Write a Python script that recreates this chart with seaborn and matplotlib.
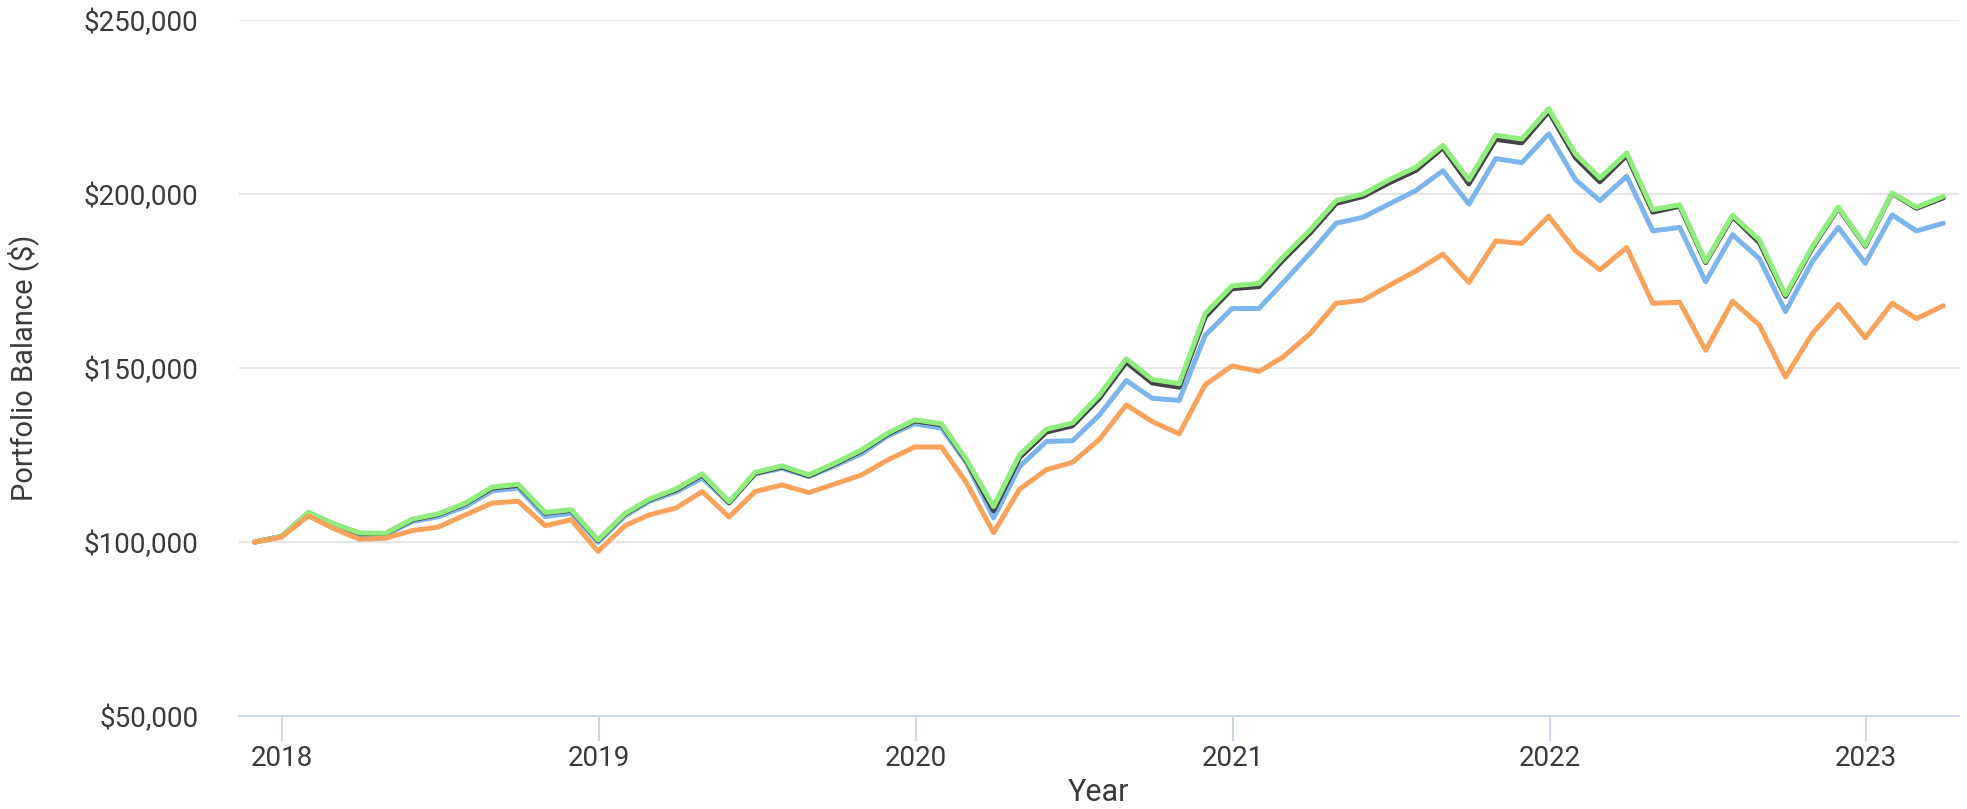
import pandas as pd
import numpy as np
import matplotlib
matplotlib.use("Agg")
import matplotlib.pyplot as plt
import matplotlib.dates as mdates
import matplotlib.ticker as mticker
import seaborn as sns

# --- 1. data (month-end balances) ---
dates = pd.date_range("2017-11-30", periods=65, freq="ME")

portfolio_1 = [  # blue
    100000, 101500, 108300, 105000, 102100, 102100, 105900, 107300, 110200, 114700,
    115500, 107300, 108300, 99900, 107500, 111700, 114400, 118400, 111200, 119600,
    121200, 118800, 121900, 125400, 130500, 134000, 132700, 122700, 106900, 121700,
    128900, 129100, 136500, 146400, 141300, 140700, 159400, 167100, 167100, 174600,
    183000, 191600, 193300, 197100, 201000, 206700, 197100, 210200, 209000, 217300,
    204100, 198100, 205100, 189400, 190400, 174800, 188300, 181400, 166200, 180600,
    190400, 180100, 194000, 189400, 191600,
]
portfolio_2 = [  # dark grey
    100000, 101600, 108400, 105300, 102400, 102400, 106400, 107900, 111000, 115500,
    116300, 108300, 109100, 100400, 108000, 112100, 115000, 119300, 111300, 119700,
    121600, 119000, 122400, 126200, 131000, 134800, 133700, 123200, 109000, 124300,
    131600, 133400, 141300, 151700, 145700, 144500, 164700, 172800, 173400, 181100,
    188800, 197300, 199300, 203200, 206800, 213300, 202900, 215700, 214700, 223700,
    210400, 203500, 211100, 194800, 196500, 180300, 193500, 186000, 170600, 184500,
    196000, 185000, 200200, 195900, 198900,
]
portfolio_3 = [  # green
    100000, 101600, 108500, 105400, 102600, 102500, 106600, 108100, 111200, 115800,
    116600, 108500, 109300, 100600, 108200, 112300, 115300, 119600, 111600, 120000,
    121900, 119300, 122700, 126500, 131300, 135100, 134000, 123600, 110200, 125100,
    132400, 134200, 142200, 152700, 146700, 145500, 165700, 173600, 174300, 182000,
    189700, 198100, 200000, 204100, 207700, 214000, 204100, 216900, 215800, 224500,
    211500, 204600, 211800, 195500, 196900, 180600, 193900, 186800, 171000, 184900,
    196200, 185200, 200300, 196200, 199300,
]
portfolio_4 = [  # orange
    100000, 101400, 107500, 104000, 100800, 101100, 103300, 104300, 107800, 111200,
    111700, 104700, 106400, 97300, 104700, 107800, 109800, 114500, 107200, 114500,
    116400, 114200, 116700, 119300, 123600, 127300, 127300, 116900, 102700, 115200,
    120800, 122900, 129500, 139400, 134600, 131100, 145200, 150600, 149000, 153200,
    159900, 168600, 169500, 173700, 177900, 182700, 174600, 186500, 185800, 193600,
    183700, 178200, 184600, 168600, 168900, 155100, 169200, 162300, 147400, 159900,
    168300, 158700, 168600, 164200, 167900,
]

series_names = ["Portfolio 1", "Portfolio 2", "Portfolio 3", "Portfolio 4"]
colors = ["#7cb5ec", "#434348", "#90ed7d", "#f7a35c"]
y_ticks = [50000, 100000, 150000, 200000, 250000]
x_tick_years = [2018, 2019, 2020, 2021, 2022, 2023]

df = pd.DataFrame({"Date": dates, series_names[0]: portfolio_1, series_names[1]: portfolio_2,
                   series_names[2]: portfolio_3, series_names[3]: portfolio_4})
long_df = df.melt(id_vars="Date", var_name="Portfolio", value_name="Balance")

# --- 2. style ---
sns.set_theme(style="white")
plt.rcParams["font.family"] = ["Roboto", "DejaVu Sans"]
text_color = "#3a3a3a"

fig = plt.figure(figsize=(19.67, 8.09), dpi=100)
ax = fig.add_axes([0.1215, 0.1149, 0.8744, 0.8604])

# --- 3. lines ---
sns.lineplot(data=long_df, x="Date", y="Balance", hue="Portfolio", hue_order=series_names,
             palette=colors, linewidth=3.6, legend=False, ax=ax)

# --- 4. axes ---
ax.set_ylim(50000, 250000)
ax.set_xlim(dates[0] - pd.Timedelta(days=18), dates[-1] + pd.Timedelta(days=18))
ax.set_yticks(y_ticks)
ax.yaxis.set_major_formatter(mticker.StrMethodFormatter("${x:,.0f}"))
ax.set_xticks([pd.Timestamp(f"{y}-01-01") for y in x_tick_years])
ax.xaxis.set_major_formatter(mdates.DateFormatter("%Y"))

ax.grid(axis="y", color="#e6e6e6", linewidth=1.5)
ax.grid(axis="x", visible=False)
ax.set_axisbelow(True)
for side in ["top", "right", "left"]:
    ax.spines[side].set_visible(False)
ax.spines["bottom"].set_color("#ccd6eb")
ax.spines["bottom"].set_linewidth(1.5)

ax.tick_params(axis="x", length=18, width=1.5, color="#ccd6eb", pad=3,
               labelsize=20, labelcolor=text_color, bottom=True)
ax.tick_params(axis="y", length=0, pad=29, labelsize=20, labelcolor=text_color)

ax.set_xlabel("Year", fontsize=22, color=text_color, labelpad=4)
ax.set_ylabel("Portfolio Balance ($)", fontsize=21, color=text_color)
ax.yaxis.set_label_coords(-0.116, 0.5)

fig.savefig("out.png", dpi=100)
